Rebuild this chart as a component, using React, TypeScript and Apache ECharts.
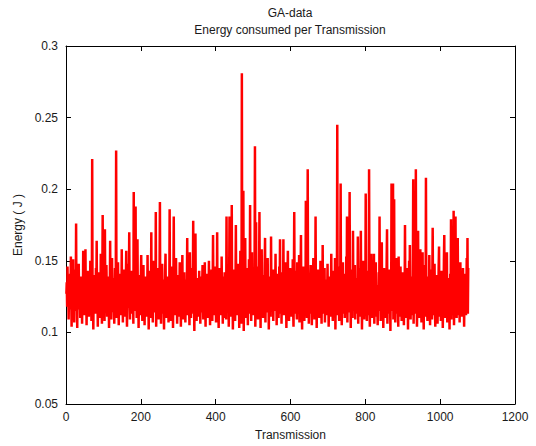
import React, { useEffect, useRef } from "react";
import * as echarts from "echarts";

// Energy consumed per transmission, in thousandths of a joule, transmission 1..1075 (25 per row)
const energyMilli: number[] = [
  127,135,118,146,122,131,109,128,137,120,141,116,153,124,104,133,119,129,151,117,126,107,136,123,144,
  121,176,115,130,103,134,125,119,148,127,116,132,110,124,139,118,128,106,135,121,157,117,130,112,126,
  133,158,119,127,105,136,122,143,117,129,111,124,138,120,150,116,131,108,125,221,118,134,102,128,140,
  120,131,113,126,145,122,164,116,128,104,133,119,142,125,110,137,121,155,118,127,106,130,182,123,135,
  117,129,108,172,121,134,115,147,124,111,132,119,139,126,103,130,122,164,118,136,109,127,152,120,131,
  114,138,123,106,129,145,117,132,227,110,125,136,119,149,122,105,131,116,141,127,112,134,120,158,118,
  128,107,133,121,144,116,130,111,126,137,157,119,104,132,124,148,117,128,170,122,109,135,118,143,125,
  113,131,120,138,106,198,124,115,135,127,188,118,129,110,146,165,121,133,103,126,140,117,130,112,137,
  154,119,128,108,134,122,147,115,131,105,125,139,118,136,111,127,121,154,116,133,102,129,143,120,132,
  110,126,170,117,134,123,107,138,119,150,128,114,131,121,184,104,127,136,116,145,122,130,109,125,141,
  191,118,129,106,135,121,148,113,127,137,120,102,132,124,143,155,116,130,110,126,139,119,133,107,128,
  123,186,115,131,108,137,124,146,118,129,103,134,181,120,127,112,136,122,152,117,130,106,125,140,119,
  132,111,127,149,121,135,104,128,118,138,154,116,130,109,124,142,120,133,107,126,137,115,129,166,112,
  131,122,140,117,105,156,125,134,110,128,119,145,123,136,178,113,129,101,132,121,169,116,135,108,127,
  138,119,130,111,125,143,118,133,106,127,139,121,114,135,147,123,109,129,136,117,149,124,104,131,120,
  141,116,128,110,134,122,150,119,131,105,126,137,118,144,124,108,132,168,121,129,112,138,117,146,125,
  107,133,120,170,115,130,124,103,136,119,145,127,112,134,121,153,117,128,106,139,123,131,110,142,118,
  126,137,109,181,120,132,114,128,147,104,135,181,118,129,111,140,122,189,116,133,102,127,144,119,130,
  121,108,134,175,117,139,125,112,131,148,119,127,103,136,122,157,114,130,106,281,124,137,115,199,101,
  128,138,118,166,110,133,124,145,116,129,105,135,121,151,113,127,189,119,132,108,140,156,117,126,136,
  112,130,122,143,230,104,128,177,115,134,120,146,109,131,125,137,184,118,127,103,135,121,158,116,129,
  140,110,126,133,119,148,166,107,130,123,138,114,128,152,118,134,102,125,139,121,131,111,167,124,136,
  117,129,144,108,132,121,137,115,126,155,120,134,105,128,141,118,131,110,124,146,122,165,113,127,138,
  106,131,120,142,116,165,125,112,135,123,149,118,129,103,133,121,140,157,115,127,108,136,124,145,119,
  132,111,126,138,120,151,117,104,130,184,122,135,113,128,143,119,109,149,125,134,116,129,154,107,131,
  121,137,168,114,127,102,133,120,146,118,131,108,125,139,116,192,123,135,110,128,214,119,141,106,130,
  124,113,136,147,120,129,105,134,118,126,152,115,131,109,138,122,181,117,128,103,135,121,144,114,127,
  139,110,132,123,150,117,128,106,136,120,161,113,125,134,118,145,107,129,137,121,112,133,124,148,116,
  130,104,127,139,119,133,111,125,155,117,136,122,108,131,143,115,128,120,152,102,126,137,118,130,245,
  112,134,121,146,108,129,124,138,204,116,127,105,135,120,149,113,131,123,141,110,126,137,117,153,122,
  181,107,130,119,139,114,127,198,121,135,103,128,144,117,132,110,171,124,136,115,126,147,109,131,120,
  138,113,129,122,167,106,133,118,145,125,111,134,171,120,128,102,137,116,150,124,131,109,127,140,119,
  197,115,132,108,126,143,120,135,112,214,123,104,130,118,137,155,125,110,133,121,146,114,155,106,128,
  136,120,149,111,127,133,118,105,131,124,142,115,181,122,129,108,137,119,163,112,126,134,103,128,145,
  118,131,110,125,138,121,150,172,106,129,117,135,123,144,113,128,101,133,120,204,115,139,126,204,109,
  131,193,118,127,107,136,122,152,113,129,140,120,104,153,124,133,111,126,146,117,130,108,137,121,142,
  114,128,105,134,122,175,117,131,110,126,145,119,137,102,129,123,150,115,161,127,109,133,120,139,112,
  125,136,207,106,130,119,143,113,128,214,121,134,104,127,148,171,116,131,110,124,138,158,118,129,107,
  133,121,156,114,127,102,136,119,147,125,111,208,117,130,123,108,139,120,132,113,154,126,105,134,144,
  118,129,109,137,173,121,112,133,126,148,115,104,131,122,140,117,128,106,135,124,146,160,111,130,119,
  137,108,126,143,118,132,103,127,121,150,168,114,129,110,135,123,145,156,107,128,119,138,115,131,102,
  126,141,117,179,109,133,122,147,113,128,185,105,130,119,143,181,116,127,110,136,124,166,112,131,120,
  139,107,128,149,116,133,121,111,136,125,145,113,130,104,127,141,118,134,112,126,152,115,166,113,145,
];

const xTicks: number[] = [0, 200, 400, 600, 800, 1000, 1200];
const yTicks: number[] = [0.05, 0.1, 0.15, 0.2, 0.25, 0.3];

const titleLines: string[] = ["GA-data", "Energy consumed per Transmission"];
const xName = "Transmission";
const yName = "Energy ( J )";

export default function App() {
  const ref = useRef<HTMLDivElement | null>(null);

  useEffect(() => {
    if (!ref.current) return;
    const chart = echarts.init(ref.current, null, { renderer: "svg" });
    const data = energyMilli.map((v, i) => [i + 1, v / 1000]);
    const font = "Liberation Sans, Arial, Helvetica, sans-serif";
    const textColor = "#1a1a1a";
    const xMin = xTicks[0];
    const xMax = xTicks[xTicks.length - 1];
    const xInt = xTicks[1] - xTicks[0];
    const yMin = yTicks[0];
    const yMax = yTicks[yTicks.length - 1];
    const yInt = 0.05;
    const fmtY = (v: number) => String(parseFloat(v.toFixed(2)));
    const fmtX = (v: number) => String(Math.round(v));

    const baseX = {
      type: "value" as const,
      min: xMin,
      max: xMax,
      interval: xInt,
      splitLine: { show: false },
      axisLine: { show: true, onZero: false, lineStyle: { color: "#000", width: 1 } },
      axisTick: { show: true, inside: true, length: 5, lineStyle: { color: "#000" } },
    };
    const baseY = {
      type: "value" as const,
      min: yMin,
      max: yMax,
      interval: yInt,
      splitLine: { show: false },
      axisLine: { show: true, onZero: false, lineStyle: { color: "#000", width: 1 } },
      axisTick: { show: true, inside: true, length: 5, lineStyle: { color: "#000" } },
    };

    chart.setOption({
      animation: false,
      backgroundColor: "#ffffff",
      title: {
        text: titleLines.join("\n"),
        left: 290,
        top: 4,
        padding: 0,
        textAlign: "center",
        textStyle: {
          fontFamily: font,
          fontSize: 12,
          fontWeight: "normal",
          color: textColor,
          lineHeight: 17,
        },
      },
      grid: { left: 66, right: 21, top: 46, bottom: 39, containLabel: false },
      xAxis: [
        {
          ...baseX,
          position: "bottom",
          name: xName,
          nameLocation: "middle",
          nameGap: 25,
          nameTextStyle: { fontFamily: font, fontSize: 12, color: textColor },
          axisLabel: {
            show: true,
            margin: 7,
            fontFamily: font,
            fontSize: 12,
            color: textColor,
            formatter: fmtX,
          },
        },
        {
          ...baseX,
          position: "top",
          axisLabel: { show: false },
        },
      ],
      yAxis: [
        {
          ...baseY,
          position: "left",
          name: yName,
          nameLocation: "middle",
          nameGap: 36,
          nameRotate: 90,
          nameTextStyle: { fontFamily: font, fontSize: 12, color: textColor },
          axisLabel: {
            show: true,
            margin: 8,
            fontFamily: font,
            fontSize: 12,
            color: textColor,
            formatter: fmtY,
          },
        },
        {
          ...baseY,
          position: "right",
          axisLabel: { show: false },
        },
      ],
      series: [
        {
          type: "line",
          xAxisIndex: 0,
          yAxisIndex: 0,
          data,
          showSymbol: false,
          symbol: "none",
          lineStyle: { color: "#ff0000", width: 2.5 },
          itemStyle: { color: "#ff0000" },
        },
      ],
    });

    return () => {
      chart.dispose();
    };
  }, []);

  return (
    <div
      ref={ref}
      style={{ position: "fixed", left: 0, top: 0, width: 536, height: 446, background: "#fff" }}
    />
  );
}
